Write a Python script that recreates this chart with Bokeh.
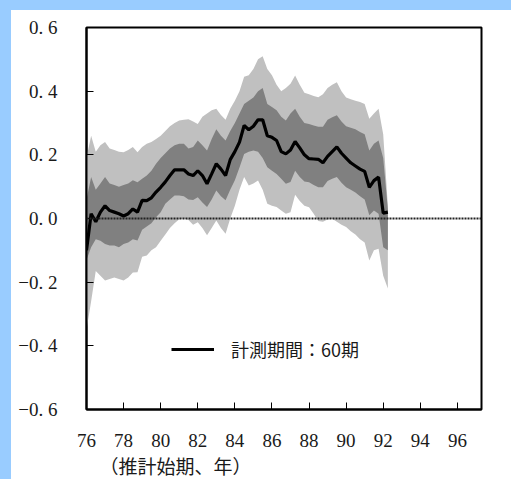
from bokeh.plotting import figure
from bokeh.models import FixedTicker, Span, Legend, LegendItem, Title, ColumnDataSource
from bokeh.embed import file_html
from bokeh.resources import INLINE

# Estimation start period (quarterly, 1976Q1 .. 1992Q2)
n_q = 66
start = [76 + q / 4 for q in range(n_q)]

# Point estimate (measurement window: 60 periods)
estimate = [-0.10, 0.015, -0.01, 0.02, 0.04, 0.025, 0.02, 0.015, 0.008, 0.015,
            0.03, 0.02, 0.057, 0.056, 0.065, 0.083, 0.098, 0.115, 0.135, 0.153,
            0.153, 0.153, 0.14, 0.135, 0.15, 0.135, 0.109, 0.14, 0.172, 0.155,
            0.135, 0.185, 0.21, 0.24, 0.292, 0.279, 0.29, 0.31, 0.31, 0.26,
            0.255, 0.245, 0.21, 0.203, 0.215, 0.242, 0.222, 0.20, 0.188, 0.187,
            0.186, 0.175, 0.195, 0.21, 0.225, 0.205, 0.19, 0.175, 0.165, 0.155,
            0.148, 0.098, 0.119, 0.13, 0.017, 0.02]

# Inner band (dark)
inner_hi = [0.06, 0.13, 0.09, 0.11, 0.13, 0.11, 0.105, 0.10, 0.105, 0.11,
            0.12, 0.114, 0.125, 0.135, 0.15, 0.172, 0.19, 0.205, 0.22, 0.23,
            0.235, 0.235, 0.22, 0.225, 0.245, 0.23, 0.214, 0.25, 0.28, 0.26,
            0.245, 0.275, 0.30, 0.33, 0.36, 0.37, 0.38, 0.40, 0.41, 0.36,
            0.35, 0.34, 0.32, 0.308, 0.33, 0.345, 0.32, 0.30, 0.297, 0.292,
            0.288, 0.288, 0.31, 0.318, 0.324, 0.305, 0.29, 0.285, 0.28, 0.272,
            0.265, 0.214, 0.235, 0.245, 0.19, 0.03]
inner_lo = [-0.13, -0.09, -0.065, -0.07, -0.08, -0.085, -0.085, -0.09, -0.08, -0.075,
            -0.065, -0.069, -0.035, -0.025, -0.015, 0.004, 0.02, 0.046, 0.06, 0.072,
            0.072, 0.07, 0.06, 0.058, 0.067, 0.05, 0.036, 0.06, 0.088, 0.07,
            0.057, 0.09, 0.12, 0.16, 0.203, 0.21, 0.214, 0.21, 0.19, 0.161,
            0.15, 0.14, 0.125, 0.109, 0.115, 0.15, 0.13, 0.116, 0.114, 0.105,
            0.098, 0.098, 0.118, 0.125, 0.13, 0.112, 0.098, 0.09, 0.082, 0.07,
            0.06, 0.01, 0.025, 0.015, -0.09, -0.10]

# Outer band (light)
outer_hi = [0.19, 0.26, 0.21, 0.23, 0.24, 0.22, 0.215, 0.21, 0.208, 0.215,
            0.225, 0.208, 0.225, 0.235, 0.24, 0.25, 0.26, 0.275, 0.29, 0.30,
            0.308, 0.31, 0.312, 0.305, 0.297, 0.32, 0.33, 0.34, 0.345, 0.325,
            0.31, 0.345, 0.37, 0.40, 0.445, 0.45, 0.47, 0.50, 0.51, 0.47,
            0.45, 0.42, 0.40, 0.41, 0.423, 0.449, 0.42, 0.395, 0.39, 0.385,
            0.381, 0.39, 0.41, 0.42, 0.428, 0.40, 0.38, 0.375, 0.37, 0.366,
            0.36, 0.313, 0.33, 0.345, 0.265, 0.04]
outer_lo = [-0.35, -0.26, -0.165, -0.18, -0.195, -0.19, -0.185, -0.19, -0.195, -0.185,
            -0.17, -0.169, -0.12, -0.116, -0.10, -0.09, -0.07, -0.05, -0.03, -0.015,
            -0.002, 0.0, -0.005, -0.02, -0.012, -0.03, -0.053, -0.03, -0.006, -0.03,
            -0.048, 0.0, 0.04, 0.09, 0.13, 0.104, 0.11, 0.119, 0.09, 0.046,
            0.04, 0.036, 0.025, 0.015, 0.02, 0.075, 0.055, 0.04, 0.035, 0.015,
            -0.008, -0.01, -0.003, -0.001, -0.01, -0.02, -0.027, -0.04, -0.05, -0.065,
            -0.075, -0.132, -0.10, -0.095, -0.18, -0.22]

x_ticks = [76, 78, 80, 82, 84, 86, 88, 90, 92, 94, 96]
y_ticks = [-0.6, -0.4, -0.2, 0.0, 0.2, 0.4, 0.6]
y_tick_labels = ["−0. 6", "−0. 4", "−0. 2", "0. 0", "0. 2", "0. 4", "0. 6"]
legend_label = "計測期間：60期"
x_title = "（推計始期、年）"

src = ColumnDataSource(dict(x=start, y=estimate, ihi=inner_hi, ilo=inner_lo,
                            ohi=outer_hi, olo=outer_lo))

SERIF = "Liberation Serif"
CJK = "Noto Sans CJK JP"
BLUE = "#99ccff"

p = figure(width=511, height=479, x_range=(76, 97.3), y_range=(-0.6, 0.6),
           output_backend="svg", toolbar_location=None,
           min_border_left=86, min_border_right=30, min_border_top=27,
           min_border_bottom=70, background_fill_color="white",
           border_fill_color=None, margin=0)
# light-blue bands along the top and left edges of the page
p.styles = {"background-color": "#ffffff",
            "box-shadow": f"inset 11px 10px 0 0 {BLUE}"}
p.grid.visible = False
p.outline_line_color = "black"
p.outline_line_width = 2

p.varea(x="x", y1="olo", y2="ohi", source=src, fill_color="#c0c0c0")
p.varea(x="x", y1="ilo", y2="ihi", source=src, fill_color="#808080")
est = p.line(x="x", y="y", source=src, line_color="black", line_width=3.2)

p.add_layout(Span(location=0, dimension="width", line_color="#222222",
                  line_width=1.8, line_dash="2 1"))

for ax in (p.xaxis[0], p.yaxis[0]):
    ax.axis_line_color = "black"
    ax.axis_line_width = 2
    ax.major_tick_line_color = "black"
    ax.major_tick_line_width = 1
    ax.major_tick_in = 7
    ax.major_tick_out = 0
    ax.minor_tick_line_color = None
    ax.major_label_text_font = SERIF
    ax.major_label_text_font_size = "19px"
    ax.major_label_text_color = "#1a1a1a"

p.xaxis.ticker = FixedTicker(ticks=x_ticks)
p.xaxis.major_label_standoff = 24
p.yaxis.ticker = FixedTicker(ticks=y_ticks)
p.yaxis.major_label_overrides = {t: s for t, s in zip(y_ticks, y_tick_labels)}
p.yaxis.major_label_standoff = 29

legend = Legend(items=[LegendItem(label=legend_label, renderers=[est])],
                location=(85, 47), padding=0, margin=0, spacing=0,
                glyph_width=43, glyph_height=20, label_height=20,
                label_standoff=17, border_line_alpha=0, background_fill_alpha=0,
                label_text_font=CJK, label_text_font_size="18px",
                label_text_color="#1a1a1a")
p.add_layout(legend)

p.add_layout(Title(text=x_title, align="left", offset=13, standoff=0,
                   text_font=CJK, text_font_size="19px", text_font_style="normal",
                   text_color="#1a1a1a"), "below")

html = file_html(p, INLINE)
html = html.replace("</head>",
                    "<style>html, body { margin: 0; padding: 0; overflow: hidden; "
                    "background: #ffffff; }</style>\n</head>", 1)
open("out.html", "w").write(html)
